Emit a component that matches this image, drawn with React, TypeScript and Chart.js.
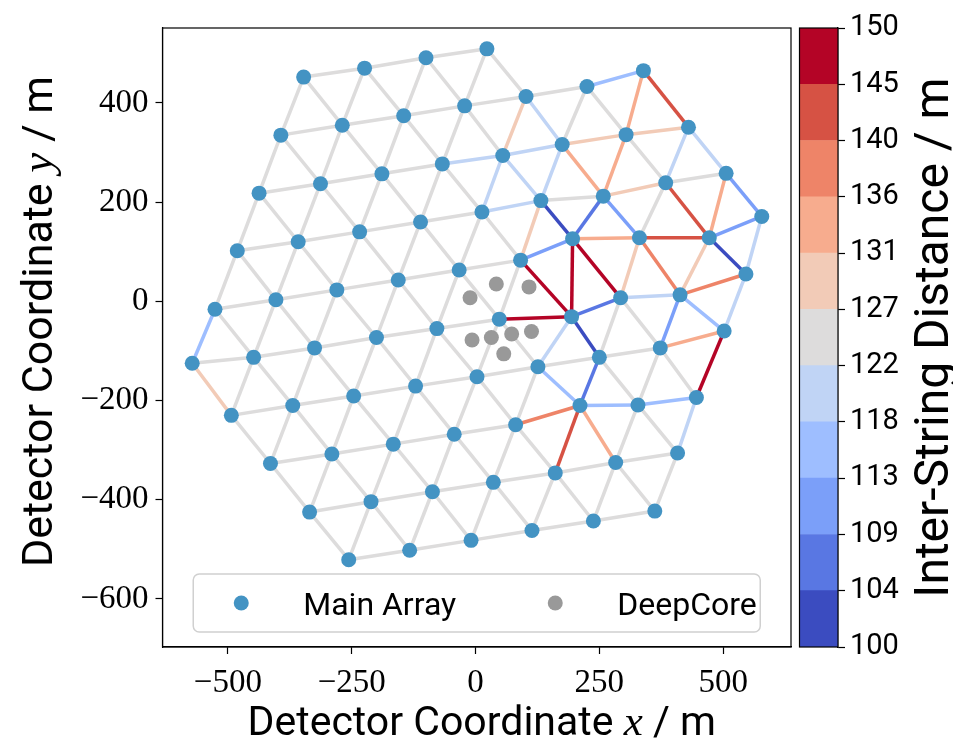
import React, { useEffect, useRef } from "react";
import { Chart, registerables } from "chart.js";

Chart.register(...registerables);

// ---- Data (metres) ----
// Main array strings 1..78, row by row
const MAIN_X = [
  -256, -133, -9, 114, 238, 362,
  -335, -211, -87, 36, 161, 283, 408,
  -414, -290, -166, -43, 81, 211, 328, 446,
  -493, -369, -246, -121, 3, 126, 250, 373, 502,
  -572, -448, -325, -200, -78, 48, 194, 293, 413, 546,
  -526, -403, -280, -156, -33, 91, 196, 331, 472, 578,
  -481, -358, -234, -111, 13, 132, 258, 384, 506,
  -437, -313, -189, -67, 55, 175, 304, 430,
  -393, -269, -145, -22, 102, 225, 339,
  -347, -224, -100, 23,
];
const MAIN_Y = [
  -521, -502, -482, -462, -443, -423,
  -425, -404, -384, -365, -346, -325, -306,
  -327, -308, -288, -268, -249, -210, -209, -194,
  -230, -210, -191, -171, -152, -132, -113, -94, -60,
  -125, -113, -94, -73, -55, -36, -31, 7, 13, 55,
  -16, 3, 23, 43, 63, 83, 126, 128, 128, 171,
  102, 120, 140, 160, 180, 203, 212, 239, 258,
  218, 237, 257, 277, 294, 316, 336, 351,
  335, 355, 374, 394, 413, 433, 465,
  452, 470, 491, 509,
];
const DEEPCORE_X = [-11, 42, 108, -7, 32, 73, 113, 57];
const DEEPCORE_Y = [7, 35, 29, -78, -73, -66, -61, -106];

const X_TICKS = [-500, -250, 0, 250, 500];
const Y_TICKS = [-600, -400, -200, 0, 200, 400];
const X_RANGE = [-632, 637];
const Y_RANGE = [-697, 551];

const CB_BOUNDS = [100, 104.55, 109.09, 113.64, 118.18, 122.73, 127.27, 131.82, 136.36, 140.91, 145.45, 150];
const CB_COLORS = [
  "#3b4cc0", "#5977e3", "#7b9ff9", "#9ebeff", "#c0d4f5", "#dddcdc",
  "#f2cbb7", "#f7ac8e", "#ee8468", "#d65244", "#b40426",
];

// Neighbouring strings are joined; edges not listed below are in the grey band
const GRAY_DISTANCE = 125;
const NEIGHBOUR_MAX = 170;
// [string a, string b, inter-string distance in m]
const COLORED_EDGES: [number, number, number][] = [
  [31, 41, 117], [31, 22, 130],
  [73, 74, 116], [74, 67, 143], [74, 66, 134], [72, 65, 120], [72, 64, 130],
  [63, 64, 120], [64, 65, 120], [65, 66, 130], [66, 67, 130], [67, 59, 120],
  [67, 58, 120], [66, 57, 134], [65, 57, 134], [65, 56, 120], [64, 56, 120],
  [64, 55, 120], [55, 56, 120], [57, 58, 130], [59, 50, 111], [59, 49, 134],
  [58, 49, 143], [57, 48, 111], [57, 47, 106], [56, 47, 102], [56, 46, 130],
  [46, 47, 111], [47, 48, 134], [48, 49, 143], [49, 50, 111], [47, 37, 148],
  [47, 38, 148], [46, 37, 148], [36, 37, 148], [48, 38, 130], [48, 39, 138],
  [49, 39, 130], [49, 40, 102], [50, 40, 120], [37, 38, 106], [38, 39, 120],
  [39, 40, 138], [39, 30, 117], [40, 30, 120], [39, 29, 111], [37, 28, 102],
  [37, 27, 120], [29, 30, 134], [30, 21, 148], [27, 19, 116], [28, 19, 106],
  [19, 20, 116], [20, 21, 116], [21, 13, 120], [18, 19, 138], [19, 11, 143],
  [19, 12, 134],
];

const SANS = "Roboto, 'DejaVu Sans', sans-serif";
const SERIF = "'Liberation Serif', 'DejaVu Serif', serif";

function colorFor(d: number): string {
  for (let i = 0; i < CB_COLORS.length; i++) {
    if (d < CB_BOUNDS[i + 1]) return CB_COLORS[i];
  }
  return CB_COLORS[CB_COLORS.length - 1];
}

function buildEdges() {
  const key = (a: number, b: number) => (a < b ? `${a}-${b}` : `${b}-${a}`);
  const lookup = new Map<string, number>();
  COLORED_EDGES.forEach(([a, b, d]) => lookup.set(key(a, b), d));
  const seen = new Set<string>();
  const edges: { a: number; b: number; d: number }[] = [];
  for (let i = 0; i < MAIN_X.length; i++) {
    for (let j = i + 1; j < MAIN_X.length; j++) {
      const dist = Math.hypot(MAIN_X[i] - MAIN_X[j], MAIN_Y[i] - MAIN_Y[j]);
      if (dist < NEIGHBOUR_MAX) {
        const k = key(i + 1, j + 1);
        seen.add(k);
        edges.push({ a: i, b: j, d: lookup.has(k) ? (lookup.get(k) as number) : GRAY_DISTANCE });
      }
    }
  }
  COLORED_EDGES.forEach(([a, b, d]) => {
    if (!seen.has(key(a, b))) edges.push({ a: a - 1, b: b - 1, d });
  });
  edges.sort((p, q) => Math.abs(p.d - GRAY_DISTANCE) - Math.abs(q.d - GRAY_DISTANCE));
  return edges;
}

const minusFmt = (v: number) => (v < 0 ? "\u2212" + Math.abs(v) : String(v));

function drawMixed(
  ctx: CanvasRenderingContext2D,
  parts: { t: string; f: string }[],
  x: number,
  y: number,
  rot: number
) {
  ctx.save();
  ctx.translate(x, y);
  ctx.rotate(rot);
  ctx.fillStyle = "#000";
  ctx.textBaseline = "alphabetic";
  ctx.textAlign = "left";
  let total = 0;
  const widths = parts.map((p) => {
    ctx.font = p.f;
    const w = ctx.measureText(p.t).width;
    total += w;
    return w;
  });
  let cx = -total / 2;
  parts.forEach((p, i) => {
    ctx.font = p.f;
    ctx.fillText(p.t, cx, 0);
    cx += widths[i];
  });
  ctx.restore();
}

export default function App() {
  const mainRef = useRef<HTMLCanvasElement | null>(null);
  const cbRef = useRef<HTMLCanvasElement | null>(null);

  useEffect(() => {
    const edges = buildEdges();
    const edgeData: { x: number; y: number }[] = [];
    const edgeColors: string[] = [];
    edges.forEach((e) => {
      edgeData.push({ x: MAIN_X[e.a], y: MAIN_Y[e.a] });
      edgeData.push({ x: MAIN_X[e.b], y: MAIN_Y[e.b] });
      edgeData.push({ x: NaN, y: NaN });
      edgeColors.push(colorFor(e.d));
    });

    const framePlugin = {
      id: "frame",
      afterDatasetsDraw(chart: any) {
        const { ctx, chartArea: a } = chart;
        ctx.save();
        ctx.strokeStyle = "#000";
        ctx.lineWidth = 1.2;
        ctx.strokeRect(a.left, a.top, a.right - a.left, a.bottom - a.top);
        ctx.restore();
      },
    };

    const legendPlugin = {
      id: "boxLegend",
      afterDatasetsDraw(chart: any) {
        const { ctx, chartArea: a } = chart;
        const w = 567;
        const h = 58;
        const x0 = (a.left + a.right) / 2 - w / 2;
        const y0 = a.bottom - 15 - h;
        ctx.save();
        ctx.beginPath();
        ctx.roundRect(x0, y0, w, h, 6);
        ctx.fillStyle = "rgba(255,255,255,0.8)";
        ctx.fill();
        ctx.strokeStyle = "#d0d0d0";
        ctx.lineWidth = 1.5;
        ctx.stroke();
        const items = [
          { ds: 0, mx: 48, tx: 110 },
          { ds: 1, mx: 362, tx: 424 },
        ];
        const cy = y0 + h / 2;
        items.forEach((it) => {
          const ds = chart.data.datasets[it.ds];
          ctx.beginPath();
          ctx.arc(x0 + it.mx, cy, 7.5, 0, Math.PI * 2);
          ctx.fillStyle = ds.backgroundColor;
          ctx.fill();
          ctx.fillStyle = "#000";
          ctx.font = `32px ${SANS}`;
          ctx.textBaseline = "alphabetic";
          ctx.textAlign = "left";
          ctx.fillText(ds.label, x0 + it.tx, cy + 11.5);
        });
        ctx.restore();
      },
    };

    const labelPlugin = {
      id: "axisLabels",
      afterDraw(chart: any) {
        const { ctx, chartArea: a } = chart;
        drawMixed(
          ctx,
          [
            { t: "Detector Coordinate ", f: `41px ${SANS}` },
            { t: "x", f: `italic 43px ${SERIF}` },
            { t: " / m", f: `41px ${SANS}` },
          ],
          (a.left + a.right) / 2 + 5,
          a.bottom + 88,
          0
        );
        drawMixed(
          ctx,
          [
            { t: "Detector Coordinate ", f: `43px ${SANS}` },
            { t: "y", f: `italic 45px ${SERIF}` },
            { t: " / m", f: `43px ${SANS}` },
          ],
          a.left - 111,
          (a.top + a.bottom) / 2 - 16,
          -Math.PI / 2
        );
      },
    };

    const main = new Chart(mainRef.current as HTMLCanvasElement, {
      type: "scatter",
      data: {
        datasets: [
          {
            label: "Main Array",
            data: MAIN_X.map((x, i) => ({ x, y: MAIN_Y[i] })),
            backgroundColor: "#4393c3",
            borderWidth: 0,
            pointRadius: 7.5,
            pointHoverRadius: 7.5,
            order: 0,
          },
          {
            label: "DeepCore",
            data: DEEPCORE_X.map((x, i) => ({ x, y: DEEPCORE_Y[i] })),
            backgroundColor: "#999999",
            borderWidth: 0,
            pointRadius: 7.5,
            pointHoverRadius: 7.5,
            order: 1,
          },
          {
            label: "edges",
            data: edgeData,
            showLine: true,
            spanGaps: false,
            pointRadius: 0,
            pointHoverRadius: 0,
            borderWidth: 3.5,
            borderColor: "#dddcdc",
            segment: {
              borderColor: (c: any) => edgeColors[Math.floor(c.p0DataIndex / 3)],
            },
            order: 2,
          } as any,
        ],
      },
      options: {
        responsive: false,
        animation: false,
        devicePixelRatio: 1,
        layout: { padding: { left: 0, top: 28, right: 162, bottom: 0 } },
        plugins: { legend: { display: false }, tooltip: { enabled: false } },
        scales: {
          x: {
            type: "linear",
            min: X_RANGE[0],
            max: X_RANGE[1],
            afterBuildTicks: (s: any) => {
              s.ticks = X_TICKS.map((v) => ({ value: v }));
            },
            afterFit: (s: any) => {
              s.height = 105;
            },
            ticks: {
              callback: (v: any) => minusFmt(Number(v)),
              font: { family: SERIF, size: 33 },
              color: "#000",
              padding: 10,
              maxRotation: 0,
              autoSkip: false,
            },
            grid: { drawOnChartArea: false, drawTicks: true, tickLength: 7, tickColor: "#000", tickWidth: 1.2 },
            border: { display: true, color: "#000", width: 1.2 },
          },
          y: {
            type: "linear",
            min: Y_RANGE[0],
            max: Y_RANGE[1],
            afterBuildTicks: (s: any) => {
              s.ticks = Y_TICKS.map((v) => ({ value: v }));
            },
            afterFit: (s: any) => {
              s.width = 162.5;
            },
            ticks: {
              callback: (v: any) => minusFmt(Number(v)),
              font: { family: SERIF, size: 33 },
              color: "#000",
              padding: 7,
              autoSkip: false,
            },
            grid: { drawOnChartArea: false, drawTicks: true, tickLength: 7, tickColor: "#000", tickWidth: 1.2 },
            border: { display: true, color: "#000", width: 1.2 },
          },
        },
      },
      plugins: [framePlugin, legendPlugin, labelPlugin],
    });

    const cbLabelPlugin = {
      id: "cbLabel",
      afterDraw(chart: any) {
        const { ctx, chartArea: a } = chart;
        drawMixed(
          ctx,
          [{ t: "Inter-String Distance / m", f: `48px ${SANS}` }],
          188,
          (a.top + a.bottom) / 2,
          -Math.PI / 2
        );
      },
    };

    const cb = new Chart(cbRef.current as HTMLCanvasElement, {
      type: "bar",
      data: {
        labels: [""],
        datasets: CB_COLORS.map((c, i) => ({
          label: `${CB_BOUNDS[i]}-${CB_BOUNDS[i + 1]}`,
          data: [[CB_BOUNDS[i], CB_BOUNDS[i + 1]]],
          backgroundColor: c,
          borderWidth: 0,
          barPercentage: 1,
          categoryPercentage: 1,
          grouped: false,
        })) as any,
      },
      options: {
        responsive: false,
        animation: false,
        devicePixelRatio: 1,
        layout: { padding: { left: 39.5, top: 28, right: 0, bottom: 105 } },
        plugins: { legend: { display: false }, tooltip: { enabled: false } },
        scales: {
          x: { display: false },
          y: {
            position: "right",
            min: CB_BOUNDS[0],
            max: CB_BOUNDS[CB_BOUNDS.length - 1],
            afterBuildTicks: (s: any) => {
              s.ticks = CB_BOUNDS.map((v) => ({ value: v }));
            },
            afterFit: (s: any) => {
              s.width = 115;
            },
            ticks: {
              callback: (v: any) => String(Math.floor(Number(v) + 1e-9)),
              font: { family: SANS, size: 29 },
              color: "#000",
              padding: 5,
              autoSkip: false,
            },
            grid: { drawOnChartArea: false, drawTicks: true, tickLength: 7, tickColor: "#000", tickWidth: 1.2 },
            border: { display: true, color: "#000", width: 1.2 },
          },
        },
      },
      plugins: [framePlugin, cbLabelPlugin],
    });

    return () => {
      main.destroy();
      cb.destroy();
    };
  }, []);

  return (
    <div style={{ position: "fixed", left: 0, top: 0, width: 953, height: 752, background: "#fff" }}>
      <canvas ref={mainRef} width={953} height={752} style={{ position: "absolute", left: 0, top: 0 }} />
      <canvas ref={cbRef} width={193} height={752} style={{ position: "absolute", left: 760, top: 0 }} />
    </div>
  );
}
